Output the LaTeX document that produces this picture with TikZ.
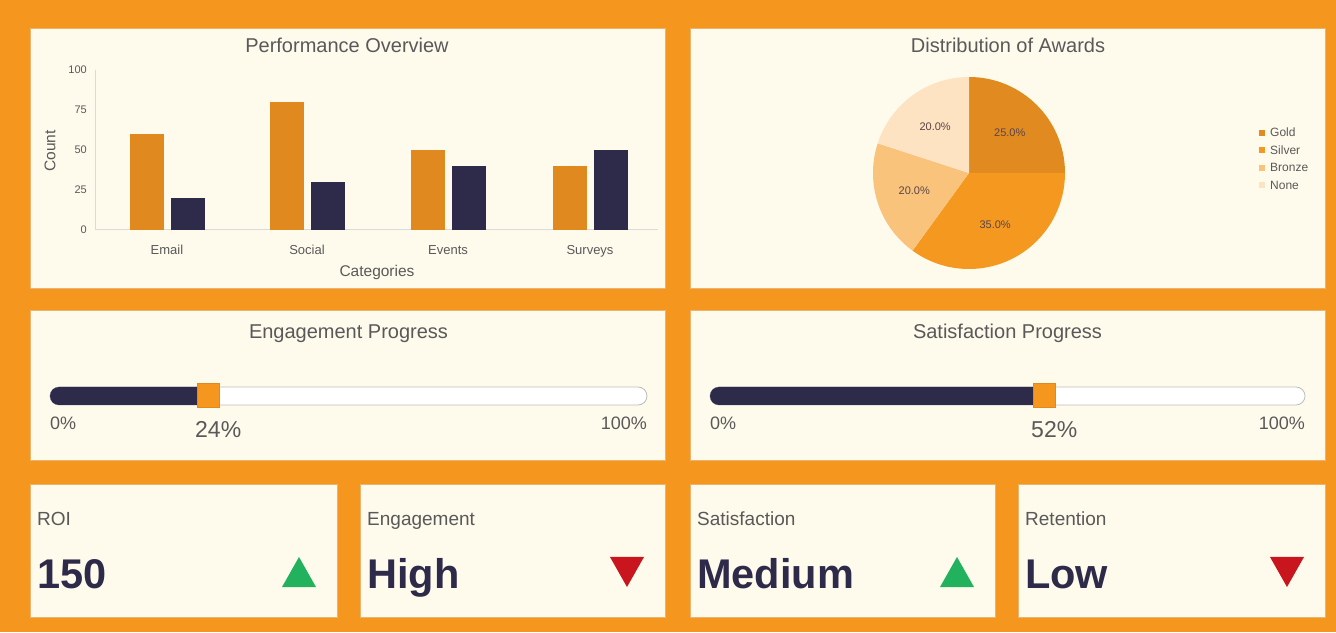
\documentclass[tikz,border=0pt]{standalone}
\usepackage{fontspec}
\setmainfont{Liberation Sans}
\usepackage{tikz}
\usetikzlibrary{positioning}
\definecolor{BgOrange}{HTML}{F5961F}
\definecolor{PanelCream}{HTML}{FEFBEC}
\definecolor{PanelEdge}{HTML}{E9B46E}
\definecolor{BarOrange}{HTML}{E0891F}
\definecolor{Navy}{HTML}{2E2A4A}
\definecolor{PieGold}{HTML}{E08A20}
\definecolor{PieSilver}{HTML}{F5981F}
\definecolor{PieBronze}{HTML}{F9C37C}
\definecolor{PieNone}{HTML}{FDE3C1}
\definecolor{UpGreen}{HTML}{22B25E}
\definecolor{DownRed}{HTML}{C9161E}
\definecolor{TextGrey}{HTML}{595959}
\definecolor{AxisGrey}{HTML}{DADADA}
\definecolor{TrackEdge}{HTML}{BDBDBD}

\begin{document}
\begin{tikzpicture}[x=1pt,y=1pt,
  panel/.style={fill=PanelCream,draw=PanelEdge,line width=0.8pt},
  ttl/.style={inner sep=0pt,text=TextGrey,font=\fontsize{20}{24}\selectfont},
  tick/.style={inner sep=0pt,text=TextGrey,font=\fontsize{11}{13}\selectfont},
  catlbl/.style={inner sep=0pt,text=TextGrey,font=\fontsize{13}{15}\selectfont},
  axlbl/.style={inner sep=0pt,text=TextGrey,font=\fontsize{15.5}{18}\selectfont},
  pct/.style={inner sep=0pt,text=Navy!70!brown,font=\fontsize{11}{13}\selectfont},
  leg/.style={inner sep=0pt,text=TextGrey,font=\fontsize{12}{14}\selectfont},
  pctlbl/.style={inner sep=0pt,text=TextGrey,font=\fontsize{18}{21}\selectfont},
  pctbig/.style={inner sep=0pt,text=TextGrey,font=\fontsize{23}{27}\selectfont},
  kpilbl/.style={inner sep=0pt,text=TextGrey,font=\fontsize{19}{22}\selectfont},
  kpival/.style={inner sep=0pt,text=Navy,font=\fontsize{41.5}{48}\selectfont\bfseries}]
  \fill[BgOrange] (0,0) rectangle (1336,632);
  % Panels
  \foreach \xa/\ya/\xb/\yb in {30/344/665/604,690/344/1325/604,30/172/665/322,690/172/1325/322}
    \draw[panel] (\xa,\ya) rectangle (\xb,\yb);
  % Bar chart
  \node[ttl,anchor=base] (barttl) at (347,579) {Performance Overview};
  \draw[AxisGrey,line width=1pt] (95,562) -- (95,402) -- (658,402);
  \foreach \v in {0,25,50,75,100}
    \node[tick,anchor=east] (yt\v) at (87,{402+1.6*\v}) {\v};
  \node[axlbl,rotate=90] (ylbl) at (50,481) {Count};
  \foreach \c/\cat/\a/\b [count=\i] in {167/Email/60/20,307/Social/80/30,448/Events/50/40,590/Surveys/40/50}{
    \fill[BarOrange] (\c-37,402) rectangle (\c-3,{402+1.6*\a});
    \fill[Navy] (\c+4,402) rectangle (\c+38,{402+1.6*\b});
    \node[catlbl,anchor=base] (cat\i) at (\c,377) {\cat};
  }
  \node[axlbl,anchor=base] (xlbl) at (377,355) {Categories};
  % Pie chart
  \node[ttl,anchor=base] (piettl) at (1008,579) {Distribution of Awards};
  \coordinate (pc) at (969,459);
  \foreach \s/\e/\col in {0/90/PieGold,-126/0/PieSilver,-198/-126/PieBronze,90/162/PieNone}
    \fill[\col] (pc) -- ++(\s:96) arc[start angle=\s,end angle=\e,radius=96] -- cycle;
  \foreach \m/\p [count=\i] in {45/25.0,-63/35.0,-162/20.0,126/20.0}
    \path (pc) ++(\m:57.6) node[pct] (pct\i) {\p\%};
  \foreach \col/\lbl [count=\i] in {PieGold/Gold,PieSilver/Silver,PieBronze/Bronze,PieNone/None}{
    \fill[\col] (1259,{513.5-17.5*\i}) rectangle ++(6,6);
    \node[leg,anchor=base west] (leg\i) at (1270,{512.5-17.5*\i}) {\lbl};
  }
  % Progress bars
  \foreach \x/\w/\f/\nm/\pc [count=\i] in {50/597/147/Engagement/24,710/595/323/Satisfaction/52}{
    \node[ttl,anchor=base] (prttl\i) at ({\x+\w/2},293) {\nm\ Progress};
    \draw[TrackEdge,fill=white,line width=0.8pt,rounded corners=9pt] (\x,227) rectangle ++(\w,18);
    \fill[Navy,rounded corners=9pt] (\x,227) rectangle ++(\f+9,18);
    \draw[BarOrange,fill=BgOrange,line width=0.6pt] (\x+\f,225) rectangle ++(22,24);
    \node[pctlbl,anchor=base west] (lo\i) at (\x,202.5) {0\%};
    \node[pctlbl,anchor=base east] (hi\i) at (\x+\w,202.5) {100\%};
    \node[pctbig,anchor=base west] (val\i) at (\x+\f-2,194.5) {\pc\%};
  }
  % KPI cards
  \foreach \xa/\xb/\lbl/\val/\s/\col [count=\i] in {30/337/ROI/150/1/UpGreen,360/665/Engagement/High/-1/DownRed,690/995/Satisfaction/Medium/1/UpGreen,1018/1325/Retention/Low/-1/DownRed}{
    \draw[panel] (\xa,15) rectangle (\xb,148);
    \node[kpilbl,anchor=base west] (kl\i) at (\xa+7,106) {\lbl};
    \node[kpival,anchor=base west] (kv\i) at (\xa+7,44) {\val};
    \fill[\col] (\xb-55,{60-15*\s}) -- (\xb-21,{60-15*\s}) -- (\xb-38,{60+15*\s}) -- cycle;
  }
\end{tikzpicture}
\end{document}
